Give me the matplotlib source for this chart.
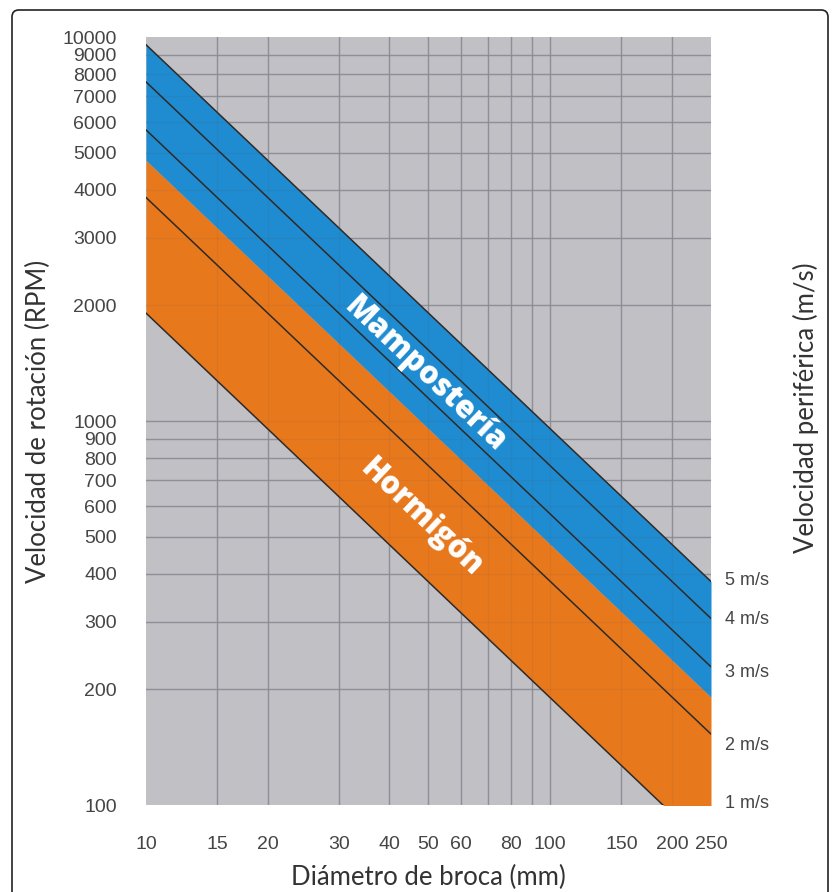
import matplotlib
matplotlib.use("Agg")
import matplotlib.pyplot as plt
from matplotlib.patches import FancyBboxPatch

# ---- data ----
diam_ends = [10, 250]                       # drill diameter (mm), start and end of each line
speed_labels = ["1 m/s", "2 m/s", "3 m/s", "4 m/s", "5 m/s"]
rpm_at_10 = [1910, 3820, 5730, 7640, 9550]  # RPM at 10 mm
rpm_at_250 = [76, 153, 229, 306, 382]       # RPM at 250 mm

band_names = ["Hormigón", "Mampostería"]
band_low_10 = [1910, 4775]
band_low_250 = [76, 191]
band_high_10 = [4775, 9550]
band_high_250 = [191, 382]
band_colors = ["#e8781c", "#1f8bd0"]

x_ticks = [10, 15, 20, 30, 40, 50, 60, 80, 100, 150, 200, 250]
x_grid = [15, 20, 30, 40, 50, 60, 70, 80, 90, 100, 150, 200]
y_ticks = [100, 200, 300, 400, 500, 600, 700, 800, 900, 1000,
           2000, 3000, 4000, 5000, 6000, 7000, 8000, 9000, 10000]

# ---- layout ----
label_y = [101, 143, 222, 305, 385]   # where the speed labels sit on the right
band_text_pos = [(48, 560), (49, 1318)]

fig = plt.figure(figsize=(8.37, 8.92), dpi=100)
ax = fig.add_axes([146 / 837, 1 - 805 / 892, 565 / 837, 768 / 892])
ax.set_xscale("log")
ax.set_yscale("log")
ax.set_xlim(10, 250)
ax.set_ylim(100, 10000)
ax.set_facecolor("#c1c0c5")

grid_c = "#96969e"
for gx in x_grid:
    ax.axvline(gx, color=grid_c, lw=1.0, zorder=1)
    ax.axvline(gx, color="#55555c", lw=0.9, alpha=0.1, zorder=4)
for gy in y_ticks[1:-1]:
    ax.axhline(gy, color=grid_c, lw=1.0, zorder=1)
    ax.axhline(gy, color="#55555c", lw=0.9, alpha=0.1, zorder=4)

for name, l10, l250, h10, h250, col in zip(band_names, band_low_10, band_low_250,
                                            band_high_10, band_high_250, band_colors):
    ax.fill_between(diam_ends, [l10, l250], [h10, h250], color=col, lw=0, zorder=2)

for r10, r250 in zip(rpm_at_10, rpm_at_250):
    ax.plot(diam_ends, [r10, r250], color="#2e2a28", lw=1.1, zorder=3)

for s, ly in zip(speed_labels, label_y):
    ax.text(1.025, ly, s, transform=ax.get_yaxis_transform(), ha="left", va="center",
            fontsize=13, color="#454545", family="Liberation Sans")

for name, (tx, ty) in zip(band_names, band_text_pos):
    ax.text(tx, ty, name, ha="center", va="center", rotation=-43.5,
            rotation_mode="anchor", fontsize=22, fontweight="heavy",
            family="Open Sans", color="white", zorder=5)

for sp in ax.spines.values():
    sp.set_visible(False)

ax.set_xticks(x_ticks)
ax.set_xticklabels([str(v) for v in x_ticks])
ax.set_xticks([], minor=True)
ax.set_yticks(y_ticks)
ax.set_yticklabels([str(v) for v in y_ticks])
ax.set_yticks([], minor=True)
ax.tick_params(axis="both", length=0, labelsize=14, labelcolor="#454545")
ax.tick_params(axis="x", pad=22)
ax.tick_params(axis="y", pad=21)
for lab in ax.get_xticklabels() + ax.get_yticklabels():
    lab.set_family("Liberation Sans")

lab_kw = dict(fontsize=18.5, color="#333333", family="Lato", fontweight="normal")
ax.set_xlabel("Diámetro de broca (mm)", labelpad=9, **lab_kw)
ax.set_ylabel("Velocidad de rotación (RPM)", labelpad=8, **lab_kw)
fig.text(806 / 837, 1 - 408 / 892, "Velocidad periférica (m/s)", rotation=90,
         ha="center", va="center", **lab_kw)

frame = FancyBboxPatch((12 / 837, -0.02), (828 - 12) / 837, (892 - 10) / 892 + 0.02,
                       boxstyle="round,pad=0,rounding_size=0.008",
                       transform=fig.transFigure, fill=False, ec="#222222", lw=1.2)
fig.patches.append(frame)

fig.savefig("out.png", dpi=100)
